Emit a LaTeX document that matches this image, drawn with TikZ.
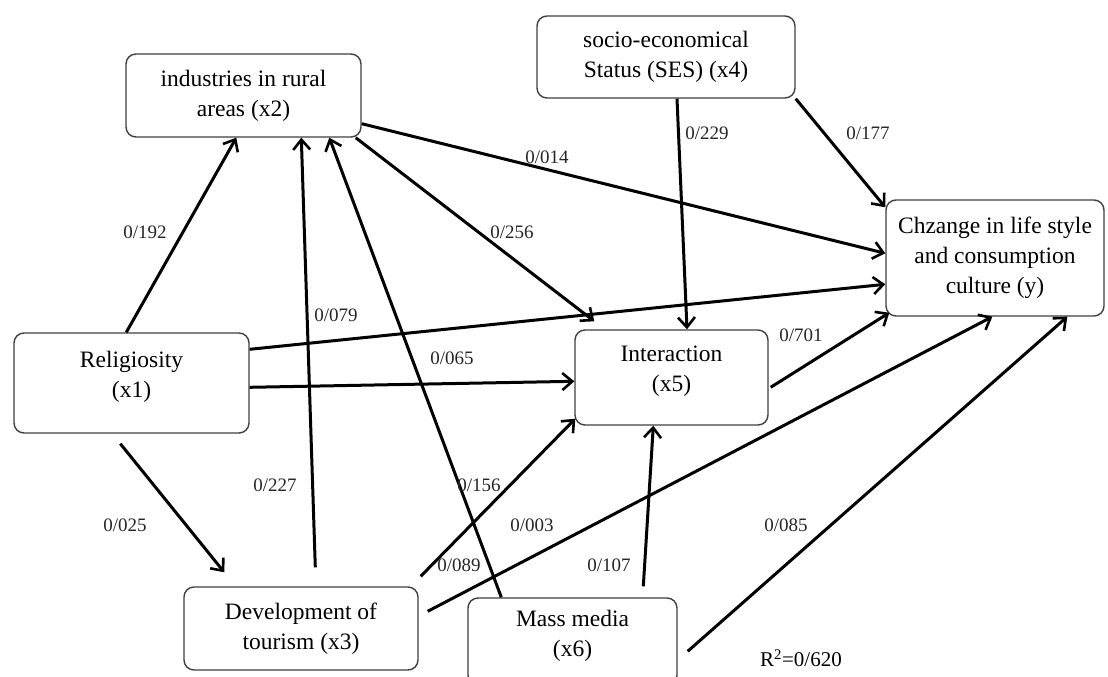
\documentclass[tikz,border=0pt]{standalone}
\usepackage{fontspec}
\setmainfont{Liberation Serif}
\usetikzlibrary{arrows.meta}
\begin{document}
\begin{tikzpicture}[x=1pt,y=-1pt,
  box/.style={draw=black!75, line width=1.4pt, rounded corners=10pt, fill=white,
    align=center, inner sep=0pt, font=\fontsize{23.5}{30}\selectfont},
  raised/.style={text depth=17pt},
  link/.style={line width=3pt, draw=black,
    -{Straight Barb[length=10pt,width=17pt,line width=2.6pt]}},
  lbl/.style={font=\fontsize{19}{22}\selectfont, text=black!85, inner sep=1pt}]
\clip (0,0) rectangle (1108,677);
\fill[white] (0,0) rectangle (1108,677);

% nodes
\node[box, raised, minimum width=235pt, minimum height=100pt] (x1) at (131.5,383) {Religiosity\\(x1)};
\node[box, minimum width=235pt, minimum height=83pt] (x2) at (243.5,95.5) {industries in rural\\areas (x2)};
\node[box, minimum width=234pt, minimum height=83pt] (x3) at (301,628.5) {Development of\\tourism (x3)};
\node[box, minimum width=258pt, minimum height=82pt] (x4) at (666,57) {socio-economical\\Status (SES) (x4)};
\node[box, raised, minimum width=193pt, minimum height=95pt] (x5) at (671.5,377.5) {Interaction\\(x5)};
\node[box, raised, minimum width=209pt, minimum height=87pt] (x6) at (572.5,641.5) {Mass media\\(x6)};
\node[box, minimum width=218pt, minimum height=116pt] (y) at (995,258) {Chzange in life style\\and consumption\\culture (y)};

% connectors
\draw[link] ([xshift=113pt]x1.north west) -- ([xshift=111pt]x2.south west);
\draw[link] ([xshift=132pt,yshift=19pt]x3.north west) -- ([xshift=176pt]x2.south west);
\draw[link] ([xshift=34pt]x6.north west) -- ([xshift=204pt]x2.south west);
\draw[link] ([xshift=-6pt]x2.south east) -- ([xshift=20pt,yshift=8pt]x5.north west);
\draw[link] ([yshift=14pt]x2.south east) -- ([yshift=-54pt]y.north west);
\draw[link] ([xshift=11pt]x4.south) -- ([xshift=15.5pt]x5.north);
\draw[link] (x4.south east) -- ([yshift=-8pt]y.north west);
\draw[link] ([yshift=-17pt]x1.north east) -- ([yshift=-85pt]y.north west);
\draw[link] ([yshift=-55pt]x1.north east) -- ([yshift=-52pt]x5.north west);
\draw[link] ([xshift=107pt,yshift=-10pt]x1.south west) -- ([xshift=41pt,yshift=14pt]x3.north west);
\draw[link] ([xshift=2pt,yshift=10pt]x3.north east) -- ([xshift=1pt,yshift=7pt]x5.south west);
\draw[link] ([xshift=9pt,yshift=-25pt]x3.north east) -- ([xshift=107pt]y.south west);
\draw[link] ([xshift=176pt,yshift=11pt]x6.north west) -- ([xshift=79pt]x5.south west);
\draw[link] ([xshift=10pt,yshift=-54pt]x6.north east) -- ([xshift=182pt]y.south west);
\draw[link] ([xshift=2pt,yshift=-58pt]x5.north east) -- ([xshift=4pt,yshift=4pt]y.south west);

% labels
\node[lbl] (l192) at (145,232) {0/192};
\node[lbl] (l079) at (336,315) {0/079};
\node[lbl] (l256) at (512,232) {0/256};
\node[lbl] (l014) at (547,157) {0/014};
\node[lbl] (l229) at (707,133) {0/229};
\node[lbl] (l177) at (868,133) {0/177};
\node[lbl] (l065) at (452,358) {0/065};
\node[lbl] (l701) at (801,335) {0/701};
\node[lbl] (l025) at (125,525) {0/025};
\node[lbl] (l227) at (275,485) {0/227};
\node[lbl] (l156) at (479,485) {0/156};
\node[lbl] (l003) at (532,525) {0/003};
\node[lbl] (l089) at (459,565) {0/089};
\node[lbl] (l107) at (609,565) {0/107};
\node[lbl] (l085) at (786,525) {0/085};
\node[font=\fontsize{21}{24}\selectfont, inner sep=1pt] (r2) at (801,658) {R\textsuperscript{2}=0/620};
\end{tikzpicture}
\end{document}
